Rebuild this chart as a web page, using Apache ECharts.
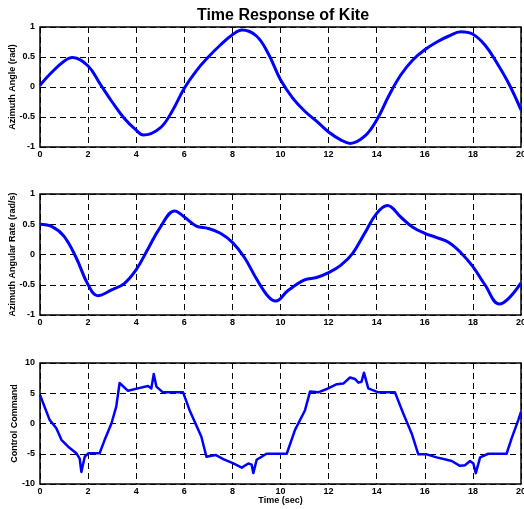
<!DOCTYPE html>
<html>
<head>
<meta charset="utf-8">
<script src="https://cdn.jsdelivr.net/npm/echarts@6/dist/echarts.min.js"></script>
<style>
  html, body { margin: 0; padding: 0; background: #fff; }
  #main { width: 524px; height: 509px; }
</style>
</head>
<body>
<div id="main"></div>
<script>
// azimuth angle (rad)
var angleT = [0, 0.5, 1, 1.35, 2, 2.5, 3, 3.5, 4, 4.3, 5, 5.5, 6, 6.5, 7, 7.5, 8, 8.4, 9, 9.5, 10, 10.5, 11, 11.5, 12, 12.5, 12.9, 13.5, 14, 14.5, 15, 15.5, 16, 16.5, 17, 17.5, 18, 18.5, 19, 19.5, 20];
var angleV = [0.03, 0.25, 0.43, 0.49, 0.35, 0.05, -0.25, -0.52, -0.72, -0.8, -0.68, -0.4, -0.02, 0.27, 0.5, 0.7, 0.87, 0.95, 0.85, 0.55, 0.12, -0.18, -0.4, -0.57, -0.75, -0.88, -0.94, -0.82, -0.55, -0.15, 0.2, 0.45, 0.62, 0.75, 0.85, 0.92, 0.88, 0.7, 0.4, 0.05, -0.38];

// azimuth angular rate (rad/s)
var rateT = [0, 0.5, 1, 1.5, 2, 2.4, 3, 3.5, 4, 4.5, 5, 5.6, 6, 6.5, 7, 7.5, 8, 8.5, 9, 9.5, 9.8, 10.3, 11, 11.5, 12, 12.5, 13, 13.5, 14, 14.45, 15, 15.5, 16, 16.5, 17, 17.5, 18, 18.5, 19.1, 19.5, 20];
var rateV = [0.5, 0.46, 0.3, -0.05, -0.5, -0.68, -0.58, -0.48, -0.25, 0.1, 0.45, 0.72, 0.62, 0.47, 0.43, 0.35, 0.2, -0.05, -0.4, -0.7, -0.77, -0.6, -0.42, -0.38, -0.3, -0.18, 0.02, 0.35, 0.68, 0.81, 0.62, 0.45, 0.35, 0.28, 0.2, 0.03, -0.2, -0.5, -0.82, -0.72, -0.47];

// control command
var ctrlT = [0, 0.4, 0.68, 0.89, 1.16, 1.51, 1.65, 1.72, 1.86, 2.02, 2.48, 2.69, 2.97, 3.17, 3.31, 3.66, 4.07, 4.49, 4.63, 4.73, 4.84, 5.11, 5.95, 6.22, 6.71, 6.92, 7.3, 7.62, 8.04, 8.39, 8.66, 8.8, 8.87, 9.01, 9.42, 10.26, 10.6, 11.02, 11.23, 11.57, 11.92, 12.34, 12.61, 12.89, 13.1, 13.24, 13.37, 13.47, 13.65, 14.07, 14.76, 15.1, 15.45, 15.73, 16.08, 16.49, 16.91, 17.12, 17.46, 17.67, 17.88, 18.02, 18.12, 18.3, 18.64, 19.4, 19.61, 19.89, 20];
var ctrlV = [4.7, 0.6, -0.8, -2.7, -3.8, -4.9, -5.8, -8.0, -5.5, -4.9, -4.9, -2.7, 0.0, 2.8, 6.7, 5.4, 5.8, 6.2, 5.8, 8.2, 6.1, 5.15, 5.15, 2.2, -2.2, -5.5, -5.2, -5.9, -6.6, -7.3, -6.6, -6.8, -8.2, -6.0, -5.0, -5.0, -1.1, 2.2, 5.3, 5.15, 5.7, 6.5, 6.6, 7.6, 7.35, 6.75, 6.9, 8.4, 5.8, 5.15, 5.15, 1.7, -1.6, -5.1, -5.1, -5.6, -6.0, -6.2, -7.0, -6.9, -6.2, -6.6, -8.2, -5.6, -5.0, -5.0, -2.45, 0.6, 1.9];

function pairs(t, v) {
    return t.map(function (x, i) { return [x, v[i]]; });
}

var labelFont = { color: '#000', fontFamily: 'Liberation Sans', fontWeight: 'bold', fontSize: 9 };
var dashed = { show: true, lineStyle: { color: '#000', type: [6, 4], width: 1 } };

function xAxis(idx, name) {
    return {
        type: 'value', gridIndex: idx, min: 0, max: 20, interval: 2,
        name: name || '', nameLocation: 'middle', nameGap: 12, nameMoveOverlap: false,
        nameTextStyle: { color: '#000', fontFamily: 'Liberation Sans', fontWeight: 'bold', fontSize: 9 },
        axisLine: { show: false }, axisTick: { show: false },
        axisLabel: Object.assign({ margin: 3, hideOverlap: false }, labelFont),
        splitLine: dashed
    };
}
function yAxis(idx, name, mn, mx, step, gap) {
    return {
        type: 'value', gridIndex: idx, min: mn, max: mx, interval: step,
        name: name, nameLocation: 'middle', nameGap: gap, nameMoveOverlap: false,
        nameTextStyle: { color: '#000', fontFamily: 'Liberation Sans', fontWeight: 'bold', fontSize: 9 },
        axisLine: { show: false }, axisTick: { show: false },
        axisLabel: Object.assign({ margin: 5 }, labelFont),
        splitLine: dashed
    };
}

function grid(top, h) {
    return { left: 40, right: 3, top: top, height: h, show: true, borderColor: '#000', borderWidth: 1.5, outerBoundsMode: 'none', containLabel: false };
}

var chart = echarts.init(document.getElementById('main'));
chart.setOption({
    animation: false,
    backgroundColor: '#fff',
    title: {
        text: 'Time Response of Kite', left: 278, top: 3, textAlign: 'center',
        textStyle: { fontFamily: 'Liberation Sans', fontWeight: 'bold', fontSize: 16, color: '#000' }
    },
    grid: [grid(27, 120), grid(194, 121), grid(363, 121)],
    xAxis: [xAxis(0), xAxis(1), xAxis(2, 'Time (sec)')],
    yAxis: [
        yAxis(0, 'Azimuth Angle (rad)', -1, 1, 0.5, 23),
        yAxis(1, 'Azimuth Angular Rate (rad/s)', -1, 1, 0.5, 23),
        yAxis(2, 'Control Command', -10, 10, 5, 21)
    ],
    series: [
        { type: 'line', xAxisIndex: 0, yAxisIndex: 0, data: pairs(angleT, angleV), smooth: 0.4, showSymbol: false, lineStyle: { color: '#0000ff', width: 3 } },
        { type: 'line', xAxisIndex: 1, yAxisIndex: 1, data: pairs(rateT, rateV), smooth: 0.4, showSymbol: false, lineStyle: { color: '#0000ff', width: 3 } },
        { type: 'line', xAxisIndex: 2, yAxisIndex: 2, data: pairs(ctrlT, ctrlV), showSymbol: false, lineStyle: { color: '#0000ff', width: 2.5, join: 'round' } }
    ]
});
</script>
</body>
</html>
